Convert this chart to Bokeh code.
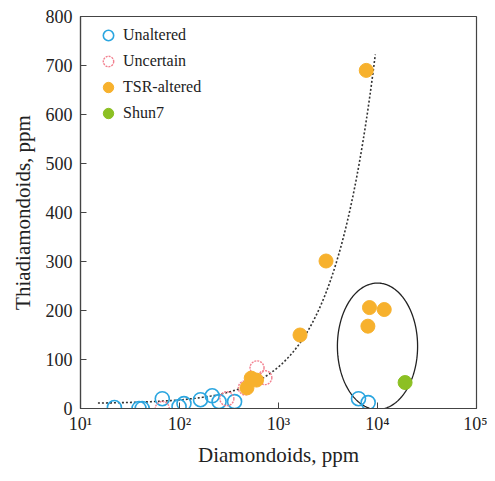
import numpy as np
from bokeh.plotting import figure
from bokeh.models import Range1d, FixedTicker, Legend, LegendItem
from bokeh.embed import file_html
from bokeh.resources import INLINE

# ---- data ----
unaltered_x = [22, 39, 42, 67, 99, 111, 163, 214, 251, 360, 6430, 8050]
unaltered_y = [2, 0, 0, 20, 4, 10, 18, 26, 14, 14, 20, 12]

uncertain_x = [67, 301, 462, 607, 728]
uncertain_y = [0, 20, 42, 83, 63]

tsr_x = [480, 530, 600, 1650, 3020, 7700, 8300, 11700, 8000]
tsr_y = [42, 62, 58, 150, 301, 690, 206, 202, 168]

shun7_x = [19000]
shun7_y = [53]

x_ticks = [10, 100, 1000, 10000, 100000]
x_tick_labels = ["10\u00b9", "10\u00b2", "10\u00b3", "10\u2074", "10\u2075"]
y_ticks = [0, 100, 200, 300, 400, 500, 600, 700, 800]

# trend line (fitted, linear in x) and ellipse annotation parameters
trend_intercept = 10.0
trend_slope = 0.075
trend_x_start, trend_x_end = 15, 9500
ell_cx_log, ell_half_decades = 4.0, 0.405
ell_cy, ell_half_h = 127.0, 129.0

FONT = "Liberation Serif"
BLUE = "#2ba6e0"
PINK = "#f2808f"
ORANGE = "#f7b12d"
GREEN = "#8cc023"

FRAME_W, FRAME_H = 396, 392
p = figure(frame_width=FRAME_W, frame_height=FRAME_H, x_axis_type="log",
           x_range=Range1d(10, 100000), y_range=Range1d(0, 800),
           output_backend="svg", toolbar_location=None,
           min_border_left=80, min_border_top=16, min_border_right=11,
           min_border_bottom=0)
p.grid.visible = False
p.outline_line_color = "#444444"
p.outline_line_width = 1.2

# trend line
tx = np.logspace(np.log10(trend_x_start), np.log10(trend_x_end), 200)
ty = trend_intercept + trend_slope * tx
p.line(tx, ty, line_color="#333333", line_width=1.6, line_dash="2 2")

# ellipse annotation
t = np.linspace(0, 2 * np.pi, 300)
ex = 10 ** (ell_cx_log + ell_half_decades * np.cos(t))
ey = ell_cy + ell_half_h * np.sin(t)
p.line(ex, ey, line_color="#222222", line_width=1.3)

SIZE = 14
r_un = p.scatter(unaltered_x, unaltered_y, size=SIZE, marker="circle",
                 fill_color=None, line_color=BLUE, line_width=1.6)
r_uc = p.scatter(uncertain_x, uncertain_y, size=SIZE, marker="circle",
                 fill_color=None, line_color=PINK, line_width=1.4, line_dash="2 1")
r_tsr = p.scatter(tsr_x, tsr_y, size=SIZE, marker="circle",
                  fill_color=ORANGE, line_color=ORANGE, line_width=1)
r_sh = p.scatter(shun7_x, shun7_y, size=SIZE, marker="circle",
                 fill_color=GREEN, line_color=GREEN, line_width=1)

GLYPH = 26
n_items = 4
legend_h = n_items * GLYPH
legend = Legend(items=[
    LegendItem(label="Unaltered", renderers=[r_un]),
    LegendItem(label="Uncertain", renderers=[r_uc]),
    LegendItem(label="TSR-altered", renderers=[r_tsr]),
    LegendItem(label="Shun7", renderers=[r_sh]),
], location=(15, FRAME_H - 6 - legend_h))
legend.margin = 0
legend.padding = 0
legend.spacing = 0
legend.glyph_width = GLYPH
legend.glyph_height = GLYPH
legend.label_height = GLYPH
legend.label_standoff = 2
legend.border_line_color = None
legend.background_fill_alpha = 0
legend.label_text_font = FONT
legend.label_text_font_size = "16px"
legend.label_text_color = "#222222"
p.add_layout(legend)

# axes
p.xaxis.ticker = FixedTicker(ticks=x_ticks, minor_ticks=[])
p.xaxis.major_label_overrides = {k: v for k, v in zip(x_ticks, x_tick_labels)}
p.yaxis.ticker = FixedTicker(ticks=y_ticks, minor_ticks=[])
p.xaxis.axis_label = "Diamondoids, ppm"
p.yaxis.axis_label = "Thiadiamondoids, ppm"
for ax in (p.xaxis, p.yaxis):
    ax.axis_label_text_font = FONT
    ax.axis_label_text_font_style = "normal"
    ax.axis_label_text_font_size = "21px"
    ax.axis_label_text_color = "#222222"
    ax.major_label_text_font = FONT
    ax.major_label_text_font_size = "18px"
    ax.major_label_text_color = "#222222"
    ax.axis_line_color = "#444444"
    ax.axis_line_width = 1.2
    ax.major_tick_line_color = "#444444"
    ax.major_tick_in = 6
    ax.major_tick_out = 0
    ax.minor_tick_in = 0
    ax.minor_tick_out = 0
p.xaxis.major_label_standoff = 5
p.xaxis.axis_label_standoff = 6
p.yaxis.major_label_standoff = 8
p.yaxis.axis_label_standoff = 8

open("out.html", "w").write(file_html(p, INLINE))
